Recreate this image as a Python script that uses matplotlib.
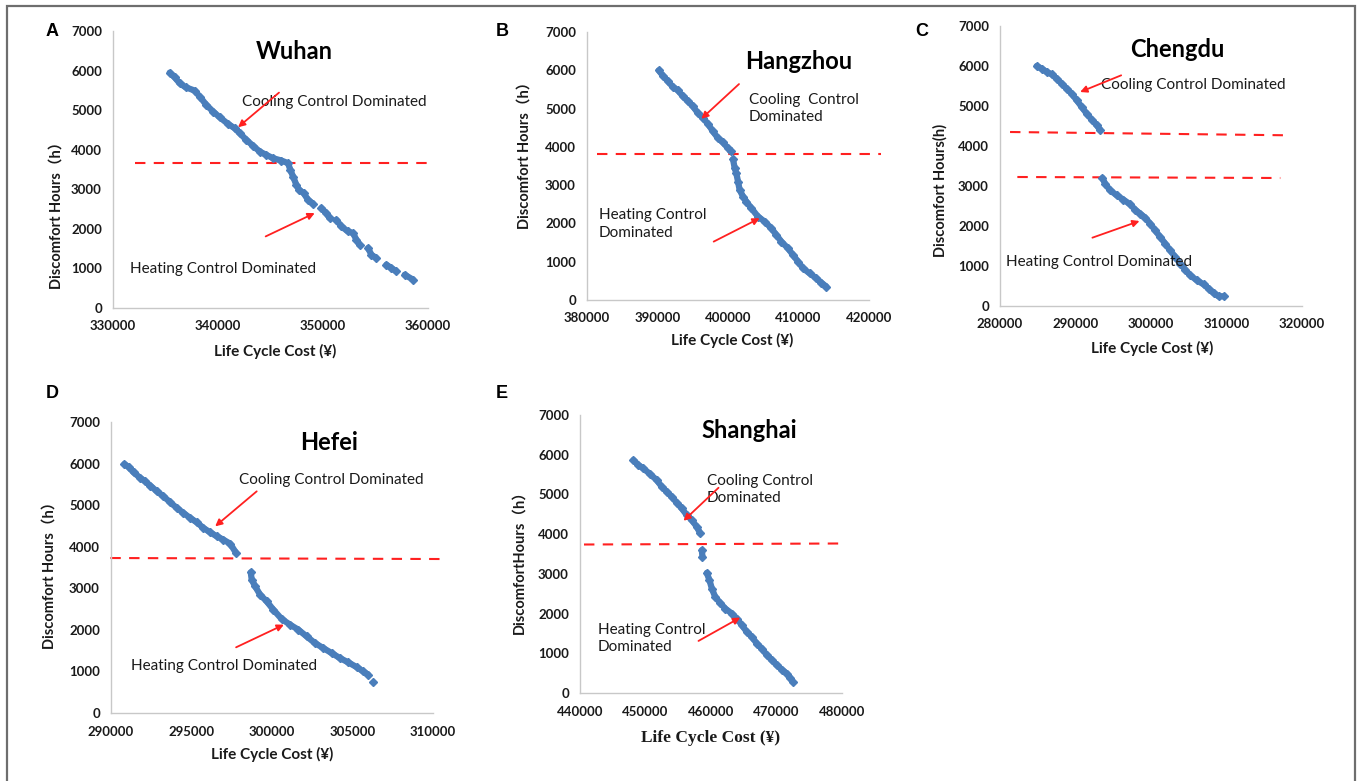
import numpy as np
import matplotlib.pyplot as plt
from matplotlib.patches import Rectangle

plt.rcParams['font.family'] = ['Lato', 'Noto Sans CJK SC', 'DejaVu Sans']

W, H = 1357, 781
BLUE = '#4A7EBB'
RED = '#FF2020'
NaN = np.nan

# ---- Wuhan (A) ----
wuhan_cost = [335400, 335870, 336350, 336920, 337780, 338260, 338890, 339530, 340160, 340950,
              341590, 342070, 342700, 343340, 343970, 344600, 345240, 346030, 346670,
              346890, 347150, 347460, 347720, 348160, 348570, 349050, NaN,
              349840, 350320, 350640, NaN,
              351270, 351750, 352380, 352860, 353180, 353490, NaN,
              354290, 354610, 355080, NaN,
              356040, 356510, 356990, NaN,
              357780, 358580]
wuhan_hours = [5948, 5830, 5679, 5578, 5494, 5342, 5132, 4964, 4821, 4652,
               4543, 4417, 4249, 4097, 3954, 3870, 3786, 3727, 3660,
               3491, 3323, 3113, 2987, 2902, 2734, 2633, NaN,
               2524, 2398, 2272, NaN,
               2229, 2061, 1935, 1893, 1725, 1598, NaN,
               1514, 1346, 1262, NaN,
               1094, 1010, 925, NaN,
               841, 715]

# ---- Hangzhou (B) ----
hangzhou_cost = [390165, 390780, 391490, 392200, 392910, 393620, 394330, 395040, 395740, 396450,
                 397160, 397870, 398580, 399290, 400000, 400470, NaN,
                 400710, 400950, 401180, 401420, 401650, 402130, 402600, 403310, 404250, 405200,
                 406150, 406850, 407560, 408510, 409220, 409930, 410640, 411580, 412530, 413240,
                 413950]
hangzhou_hours = [5997, 5858, 5710, 5562, 5474, 5317, 5187, 5056, 4881, 4751,
                  4603, 4402, 4228, 4114, 3966, 3879, NaN,
                  3679, 3443, 3312, 3095, 2877, 2702, 2572, 2397, 2179, 2048,
                  1874, 1700, 1525, 1351, 1177, 1002, 828, 697, 567, 453,
                  349]

# ---- Chengdu (C) ----
chengdu_cost = [284860, 285530, 286190, 286850, 287510, 288180, 288840, 289500, 290170, 290830,
                291490, 292160, 292820, 293260, NaN,
                293570, 293920, 294590, 295470, 296350, 297240, 297900, 298560, 299230, 299890,
                300550, 301220, 301880, 302540, 303210, 303870, 304530, 305190, 306080, 306960,
                307630, 308290, 308950, 309700]
chengdu_hours = [6000, 5933, 5850, 5792, 5683, 5558, 5433, 5308, 5142, 4975,
                 4808, 4658, 4517, 4408, NaN,
                 3200, 3058, 2892, 2767, 2658, 2542, 2408, 2308, 2208, 2058,
                 1892, 1725, 1558, 1392, 1225, 1058, 908, 767, 642, 542,
                 433, 325, 242, 242]

# ---- Hefei (D) ----
hefei_cost = [290830, 291090, 291400, 291820, 292130, 292440, 292850, 293260, 293680, 294090,
              294500, 294920, 295330, 295740, 296160, 296570, 296980, 297400, 297770, NaN,
              298680, 298740, 298950, 299260, 299670, 300080, 300600, 301120, 301630, 302150,
              302660, 303180, 303700, 304210, 304730, 305250, 305660, 305970, NaN, 306280]
hefei_hours = [5989, 5917, 5789, 5653, 5572, 5468, 5332, 5212, 5067, 4931,
               4811, 4691, 4586, 4450, 4346, 4250, 4169, 4073, 3849, NaN,
               3384, 3207, 3047, 2846, 2686, 2486, 2261, 2125, 2005, 1844,
               1684, 1563, 1443, 1323, 1219, 1106, 1002, 922, NaN, 738]

# ---- Shanghai (E) ----
shanghai_cost = [448150, 448920, 449680, 450700, 451720, 452490, 453250, 454010, 454780, 455540,
                 456310, 457070, 457840, 458350, NaN,
                 458600, 458700, NaN,
                 459360, 459770, 460130, 460640, 461400, 462170, 463190, 463950, 464720, 465480,
                 466240, 467010, 467770, 468540, 469300, 470070, 470830, 471600, 472100, 472510]
shanghai_hours = [5865, 5739, 5655, 5512, 5361, 5193, 5067, 4941, 4790, 4647,
                  4479, 4353, 4185, 4017, NaN,
                  3597, 3429, NaN,
                  3025, 2840, 2630, 2420, 2269, 2126, 2000, 1874, 1706, 1538,
                  1412, 1244, 1118, 950, 824, 697, 588, 487, 378, 277]

ytick_vals = [0, 1000, 2000, 3000, 4000, 5000, 6000, 7000]

panels = [
    dict(letter='A', title='Wuhan', box=(113, 31, 428, 308), xlim=(330000, 360000), xstep=10000,
         x=wuhan_cost, y=wuhan_hours, title_xy=(347300, 6478),
         dashes=[((332060, 360000), (3660, 3660))],
         cool_arrow=((345810, 5443), (341910, 4568)), heat_arrow=((344540, 1809), (349210, 2398)),
         cool_text=('Cooling Control Dominated', 342290, 5199),
         heat_text=('Heating Control Dominated', 331590, 984),
         ylabel='Discomfort Hours（h）', ylab_xy=(57, 212), xlab_xy=(275, 351),
         letter_xy=(52, 32)),
    dict(letter='B', title='Hangzhou', box=(587, 32, 869, 300), xlim=(380000, 420000), xstep=10000,
         x=hangzhou_cost, y=hangzhou_hours, title_xy=(410020, 6233),
         dashes=[((381420, 421750), (3818, 3818))],
         cool_arrow=((401560, 5640), (396220, 4733)), heat_arrow=((397970, 1525), (404490, 2136)),
         cool_text=('Cooling  Control\nDominated', 402980, 5000),
         heat_text=('Heating Control\nDominated', 381700, 1985),
         ylabel='Discomfort Hours（h）', ylab_xy=(525, 152), xlab_xy=(732, 340),
         letter_xy=(502, 31)),
    dict(letter='C', title='Chengdu', box=(1000, 26, 1302, 306), xlim=(280000, 320000), xstep=10000,
         x=chengdu_cost, y=chengdu_hours, title_xy=(303430, 6408),
         dashes=[((281330, 318370), (4350, 4267)), ((282300, 317130), (3225, 3200))],
         cool_arrow=((296050, 5767), (290610, 5350)), heat_arrow=((292240, 1708), (298480, 2125)),
         cool_text=('Cooling Control Dominated', 293350, 5517),
         heat_text=('Heating Control Dominated', 280800, 1100),
         ylabel='Discomfort Hours(h)', ylab_xy=(940, 190), xlab_xy=(1152, 348),
         letter_xy=(922, 31)),
    dict(letter='D', title='Hefei', box=(111, 422, 433, 713), xlim=(290000, 310000), xstep=5000,
         x=hefei_cost, y=hefei_hours, title_xy=(303550, 6495),
         dashes=[((289960, 310520), (3728, 3704))],
         cool_arrow=((299050, 5332), (296470, 4490)), heat_arrow=((297770, 1580), (300740, 2125)),
         cool_text=('Cooling Control Dominated', 297970, 5597),
         heat_text=('Heating Control Dominated', 291240, 1139),
         ylabel='Discomfort Hours（h）', ylab_xy=(50, 572), xlab_xy=(272, 754),
         letter_xy=(52, 393)),
    dict(letter='E', title='Shanghai', box=(580, 415, 842, 693), xlim=(440000, 480000), xstep=10000,
         x=shanghai_cost, y=shanghai_hours, title_xy=(465890, 6622),
         dashes=[((440610, 480510), (3739, 3765))],
         cool_arrow=((461150, 5168), (455800, 4336)), heat_arrow=((458090, 1311), (464460, 1899)),
         cool_text=('Cooling Control\nDominated', 459360, 5130),
         heat_text=('Heating Control\nDominated', 442700, 1378),
         ylabel='DiscomfortHours（h）', ylab_xy=(519, 559), xlab_xy=(711, 738),
         letter_xy=(502, 393), serif_xlabel=True),
]

fig = plt.figure(figsize=(W / 100, H / 100), dpi=100)

# outer frame
fig.patches.append(Rectangle((7 / W, -0.01), (1355 - 7) / W, (H - 6) / H + 0.01,
                             transform=fig.transFigure, fill=False,
                             edgecolor='#6E6E6E', linewidth=1.6))

for p in panels:
    l, t, r, b = p['box']
    ax = fig.add_axes([l / W, (H - b) / H, (r - l) / W, (b - t) / H])
    ax.set_xlim(*p['xlim'])
    ax.set_ylim(0, 7000)
    ax.set_xticks(np.arange(p['xlim'][0], p['xlim'][1] + 1, p['xstep']))
    ax.set_yticks(ytick_vals)
    for s in ['top', 'right']:
        ax.spines[s].set_visible(False)
    for s in ['left', 'bottom']:
        ax.spines[s].set_color('#C8C8C8')
        ax.spines[s].set_linewidth(1.0)
    ax.tick_params(length=0, labelsize=9.5, colors='#1A1A1A')
    ax.tick_params(axis='x', pad=9)
    ax.tick_params(axis='y', pad=8)
    for lab in ax.get_xticklabels() + ax.get_yticklabels():
        lab.set_fontweight('bold')

    ax.plot(p['x'], p['y'], color=BLUE, linewidth=4.5, marker='D', markersize=4.5,
            markerfacecolor=BLUE, markeredgecolor=BLUE, solid_capstyle='round', zorder=3)

    for xs, ys in p['dashes']:
        ax.plot(xs, ys, color=RED, linestyle=(0, (5, 4)), linewidth=1.5, clip_on=False, zorder=2)

    for (x0, y0), (x1, y1) in [p['cool_arrow'], p['heat_arrow']]:
        ax.annotate('', xy=(x1, y1), xytext=(x0, y0),
                    arrowprops=dict(arrowstyle='-|>', color=RED, lw=1.3,
                                    mutation_scale=10, shrinkA=0, shrinkB=0), zorder=4)

    txt, tx, ty = p['cool_text']
    ax.text(tx, ty, txt, fontsize=11, color='#1A1A1A', ha='left', va='center', linespacing=1.3)
    txt, tx, ty = p['heat_text']
    ax.text(tx, ty, txt, fontsize=11, color='#1A1A1A', ha='left', va='center', linespacing=1.3)

    ax.text(p['title_xy'][0], p['title_xy'][1], p['title'], fontsize=17, fontweight='bold',
            ha='center', va='center', color='black')

    fig.text(p['ylab_xy'][0] / W, 1 - p['ylab_xy'][1] / H, p['ylabel'], rotation=90,
             fontsize=10.5, fontweight='bold', ha='center', va='center', color='#1A1A1A')
    if p.get('serif_xlabel'):
        fig.text(p['xlab_xy'][0] / W, 1 - p['xlab_xy'][1] / H, 'Life Cycle Cost (¥)',
                 fontsize=12.5, fontweight='bold', family=['Liberation Serif', 'DejaVu Serif'],
                 ha='center', va='center', color='#1A1A1A')
    else:
        fig.text(p['xlab_xy'][0] / W, 1 - p['xlab_xy'][1] / H, 'Life Cycle Cost (¥)',
                 fontsize=11, fontweight='bold', ha='center', va='center', color='#1A1A1A')

    fig.text(p['letter_xy'][0] / W, 1 - p['letter_xy'][1] / H, p['letter'], fontsize=13,
             fontweight='bold', family=['Liberation Sans', 'DejaVu Sans'],
             ha='center', va='center', color='black')

fig.savefig('out.png', dpi=100)
